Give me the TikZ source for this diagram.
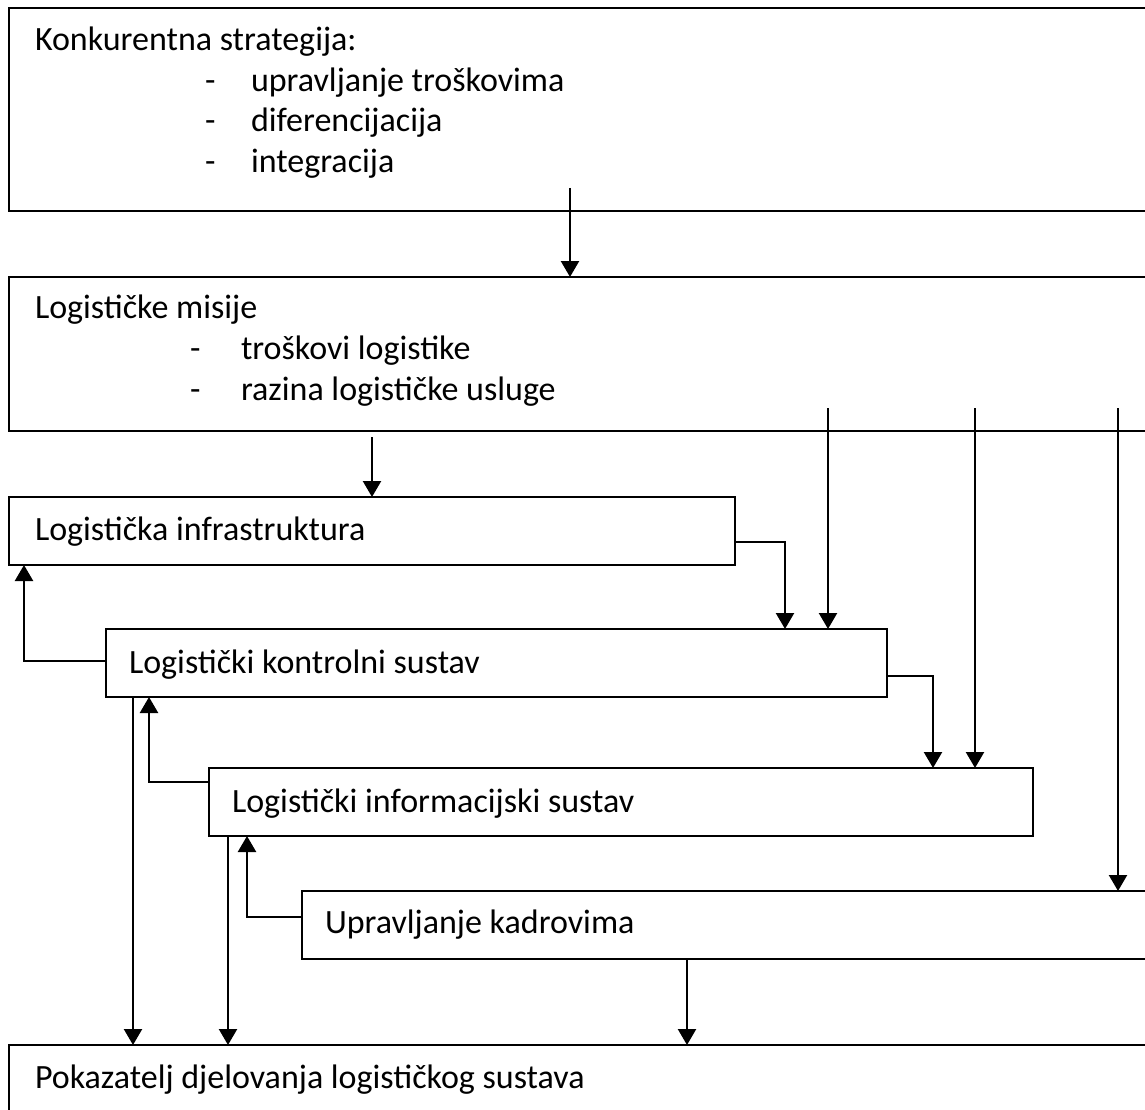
\documentclass[tikz,border=0pt]{standalone}
\usepackage{fontspec}
\setmainfont{Carlito}
\usetikzlibrary{arrows.meta,calc}
\begin{document}
\begin{tikzpicture}[x=1pt,y=-1pt,
  box/.style={draw=black,line width=1.5pt,inner sep=0pt,outer sep=0pt,anchor=north west},
  txt/.style={anchor=base west,inner sep=0pt,outer sep=0pt,text=black,font=\fontsize{34}{40}\selectfont},
  arr/.style={line width=2.3pt,-{Triangle[width=18pt,length=16pt]}}]
\path[use as bounding box] (0,0) rectangle (1145,1110);
\clip (0,0) rectangle (1145,1110);
\fill[white] (0,0) rectangle (1145,1110);
% boxes
\node[box,minimum width=1160pt,minimum height=203pt] (b1) at (9,8) {};
\node[box,minimum width=1160pt,minimum height=154pt] (b2) at (9,277) {};
\node[box,minimum width=726pt,minimum height=68pt] (b3) at (9,497) {};
\node[box,minimum width=781pt,minimum height=68pt] (b4) at (106,629) {};
\node[box,minimum width=824pt,minimum height=68pt] (b5) at (209,768) {};
\node[box,minimum width=1160pt,minimum height=68pt] (b6) at (302,891) {};
\node[box,minimum width=1160pt,minimum height=120pt] (b7) at (9,1045) {};
% texts
\node[txt] (t1) at (35,51) {Konkurentna strategija:};
\node[txt] (d11) at (205,92) {-};
\node[txt] (t11) at (251,92) {upravljanje troškovima};
\node[txt] (d12) at (205,132) {-};
\node[txt] (t12) at (251,132) {diferencijacija};
\node[txt] (d13) at (205,173) {-};
\node[txt] (t13) at (251,173) {integracija};
\node[txt] (t2) at (35,318) {Logističke misije};
\node[txt] (d21) at (190,359) {-};
\node[txt] (t21) at (241,359) {troškovi logistike};
\node[txt] (d22) at (190,400) {-};
\node[txt] (t22) at (241,400) {razina logističke usluge};
\node[txt] (t3) at (35,540) {Logistička infrastruktura};
\node[txt] (t4) at (129,673) {Logistički kontrolni sustav};
\node[txt] (t5) at (232,812) {Logistički informacijski sustav};
\node[txt] (t6) at (325,933) {Upravljanje kadrovima};
\node[txt] (t7) at (35,1088) {Pokazatelj djelovanja logističkog sustava};
% start points
\coordinate (s1) at (570,188);
\coordinate (s2) at (372,437);
\coordinate (s3) at (828,408);
\coordinate (s4) at (975,408);
\coordinate (s5) at (1118,408);
% connectors
\draw[arr] (s1) -- (s1 |- b2.north);
\draw[arr] (s2) -- (s2 |- b3.north);
\draw[arr] (s3) -- (s3 |- b4.north);
\draw[arr] (s4) -- (s4 |- b5.north);
\draw[arr] (s5) -- (s5 |- b6.north);
\draw[arr] (b3.east |- 0,542) -| (785,0 |- b4.north);
\draw[arr] (b4.west |- 0,661) -| (24,0 |- b3.south);
\draw[arr] (b4.east |- 0,676) -| (933,0 |- b5.north);
\draw[arr] (b5.west |- 0,782) -| (149,0 |- b4.south);
\draw[arr] (b6.west |- 0,917) -| (247,0 |- b5.south);
\draw[arr] (b4.south -| 133,0) -- (133,0 |- b7.north);
\draw[arr] (b5.south -| 228,0) -- (228,0 |- b7.north);
\draw[arr] (b6.south -| 687,0) -- (687,0 |- b7.north);
\end{tikzpicture}
\end{document}
